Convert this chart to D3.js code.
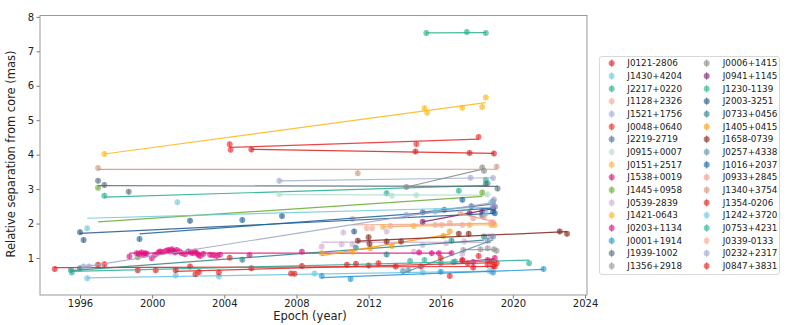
<!DOCTYPE html>
<html><head><meta charset="utf-8">
<script src="https://cdn.jsdelivr.net/npm/d3@7"></script>
<style>body{margin:0;background:#fff} svg{display:block} text{font-family:"DejaVu Sans",sans-serif}</style>
</head><body><svg id="c" width="789" height="325"></svg>
<script>
const sources = ["J0121-2806","J1430+4204","J2217+0220","J1128+2326","J1521+1756","J0048+0640","J2219-2719","J0915+0007","J0151+2517","J1538+0019","J1445+0958","J0539-2839","J1421-0643","J0203+1134","J0001+1914","J1939-1002","J1356+2918","J0006+1415","J0941+1145","J1230-1139","J2003-3251","J0733+0456","J1405+0415","J1658-0739","J0257+4338","J1016+2037","J0933+2845","J1340+3754","J1354-0206","J1242+3720","J0753+4231","J0339-0133","J0232+2317","J0847+3831"];

const epochs = [
 [1994.6,1997.0,1997.35,1999.2,2000.2,2002.1,2005.5,2008.3,2012.0,2014.9,2017.8,2018.9],
 [1996.4,2001.3,2003.7,2009.0,2015.0,2018.7],
 [1997.35,2013.0,2017.0,2018.5,2018.6],
 [2011.1,2011.9,2012.2,2016.5,2018.9],
 [2007.05,2017.65,2018.9],
 [2004.3,2004.35,2014.65,2018.1],
 [2015.0,2016.2,2017.7,2018.9,2019.0],
 [2007.05,2013.3,2014.65,2018.6],
 [2012.8,2014.5,2017.6,2018.8,2019.0],
 [2017.2,2017.8,2018.6,2019.0],
 [1997.0,1999.2,2018.3],
 [2009.4,2010.5,2010.6,2011.1,2013.0,2014.5,2015.0,2016.3,2017.2,2017.3,2018.65,2018.8],
 [1997.35,2015.1,2015.25,2017.2,2018.3,2018.5],
 [1998.74,1999.14,1999.29,1999.42,1999.51,1999.61,1999.70,1999.98,2000.16,2000.35,2000.44,2000.59,2000.77,2000.90,2000.99,2001.09,2001.18,2001.27,2001.36,2001.51,2001.64,2001.82,2002.01,2002.14,2002.25,2002.38,2002.47,2002.56,2002.66,2002.84,2003.21,2003.39,2003.58,2003.76,2005.4,2008.3,2014.8,2015.5,2015.9,2016.6],
 [2009.4,2011.0,2016.0,2018.9,2021.7],
 [1997.0,1997.35,1998.7,2018.5,2019.15],
 [2017.25,2018.2,2018.6,2018.95,2019.1],
 [2014.1,2018.3,2018.4],
 [2015.0,2017.6,2018.3,2018.9],
 [2015.2,2017.45,2018.5],
 [1996.0,1996.2,2002.1,2007.2,2011.2,2018.9],
 [1995.5,1996.0,2005.0,2011.3,2013.0,2016.6,2018.4],
 [2009.4,2011.1,2012.1,2013.3,2016.15,2016.5],
 [2011.4,2012.0,2012.05,2013.0,2013.8,2017.0,2017.55,2022.6,2023.0],
 [2013.9,2014.2,2016.8,2018.6,2018.9],
 [1999.3,2005.0,2017.2,2018.3,2019.0],
 [2017.1,2017.8,2018.4,2018.9],
 [1997.0,2011.4,2019.1],
 [2005.5,2014.6,2017.6,2018.95],
 [1996.4,2001.4,2015.7,2018.5,2018.8],
 [1995.55,2014.3,2015.1,2016.0,2016.7,2020.9],
 [2013.2,2015.7,2016.05,2017.2,2018.8],
 [1996.2,1996.5,2014.1,2018.9,2018.95],
 [2001.3,2002.4,2002.6,2003.7,2004.3,2007.7,2007.9,2010.8,2011.3,2012.55,2013.5,2016.0,2016.5,2017.2,2017.5,2018.1,2018.6,2018.8,2019.0,2019.1]
];

const separations = [
 [0.68,0.80,0.82,0.64,0.64,0.75,0.70,0.77,0.78,0.75,0.72,0.76],
 [0.41,0.49,0.46,0.55,0.58,0.62],
 [2.81,2.88,2.95,3.27,3.17],
 [2.13,1.86,1.86,2.02,2.00],
 [3.24,3.33,3.32],
 [4.30,4.14,4.31,4.51],
 [2.33,2.40,2.50,2.64,2.49],
 [2.85,2.81,2.82,2.84],
 [1.90,1.93,1.96,1.96,1.96],
 [0.92,0.88,0.94,1.00],
 [3.04,1.02,2.90],
 [1.33,1.40,1.74,1.40,1.77,1.18,1.38,1.43,1.12,1.48,1.62,1.62],
 [4.02,5.35,5.22,5.36,5.38,5.66],
 [1.04,1.14,1.12,1.16,1.09,1.14,1.12,0.99,1.09,1.16,1.19,1.17,1.21,1.23,1.19,1.25,1.21,1.16,1.23,1.19,1.14,1.11,1.19,1.16,1.14,1.19,1.14,1.09,1.06,1.12,1.09,1.08,1.06,1.09,1.08,1.18,1.16,1.14,1.14,1.14],
 [0.48,0.39,0.60,0.58,0.68],
 [3.24,3.12,2.92,3.15,3.02],
 [1.23,1.25,1.28,1.25,1.21],
 [3.06,3.63,3.53],
 [2.05,2.30,2.35,2.45],
 [7.53,7.56,7.53],
 [1.75,1.52,2.08,2.22,1.77,2.35],
 [0.65,0.70,0.95,1.30,1.10,1.50,1.62],
 [1.14,1.18,1.28,1.35,1.64,1.77],
 [1.50,1.60,1.41,1.48,1.48,1.70,1.70,1.77,1.70],
 [0.62,0.65,0.90,1.50,1.62],
 [1.55,2.10,2.69,2.25,2.30],
 [2.30,2.15,2.20,2.03],
 [3.61,3.46,3.65],
 [4.15,4.09,4.05,4.03],
 [1.86,2.62,2.35,2.30,2.62],
 [0.58,0.91,0.94,0.85,0.88,0.85],
 [1.93,1.96,1.96,1.96,2.04],
 [0.75,0.75,2.25,2.50,2.70],
 [0.64,0.53,0.59,0.58,1.01,0.55,0.54,0.80,0.83,0.85,0.75,1.00,0.48,0.94,0.85,1.06,0.80,0.90,0.75,0.85]
];

const palette = ["#e41a1c","#69c4e0","#1fae8a","#f3aa93","#a2aad0","#eb2626","#546ca1","#afddd0","#fcb33f","#d31478","#67ab2b","#ceaed8","#fcb713","#e00e7f","#2393d6","#546a7b","#969696","#878787","#801c6a","#26b08b","#245588","#2a8484","#fa9c13","#802318","#6393ae","#14639d","#ef9a88","#cb987f","#dc1e1e","#6ac8de","#26b096","#f5ab92","#9ca6cb","#e02123"];

const xTicks = [1996,2000,2004,2008,2012,2016,2020,2024];
const yTicks = [1,2,3,4,5,6,7,8];
const sepError = 0.08;

const svg = d3.select("#c");
const x = d3.scaleLinear().domain([1993.782, 2024.11]).range([40, 587]);
const y = d3.scaleLinear().domain([-0.075, 8.04]).range([295, 15.5]);

// axes
const gx = svg.append("g").attr("transform","translate(0,295)")
  .call(d3.axisBottom(x).tickValues(xTicks).tickSize(3.5).tickPadding(1.5).tickFormat(d3.format("d")));
const gy = svg.append("g").attr("transform","translate(40,0)")
  .call(d3.axisLeft(y).tickValues(yTicks).tickSize(3.5).tickPadding(2.5).tickFormat(d3.format("d")));
[gx,gy].forEach(g=>{
  g.select(".domain").remove();
  g.selectAll(".tick line").attr("stroke","#555").attr("stroke-width",0.8);
  g.selectAll(".tick text").attr("fill","#222").style("font-size","10px").style("font-family","DejaVu Sans");
});

// series
const line = d3.line().x(d=>x(d[0])).y(d=>y(d[1]));
const plot = svg.append("g");
sources.forEach((name,i)=>{
  const pts = epochs[i].map((e,j)=>[e, separations[i][j]]);
  const col = palette[i];
  const g = plot.append("g");
  g.selectAll("line.err").data(pts).join("line")
    .attr("x1",d=>x(d[0])).attr("x2",d=>x(d[0]))
    .attr("y1",d=>y(d[1]-sepError)).attr("y2",d=>y(d[1]+sepError))
    .attr("stroke",col).attr("stroke-opacity",0.55).attr("stroke-width",1);
  g.selectAll("circle").data(pts).join("circle")
    .attr("cx",d=>x(d[0])).attr("cy",d=>y(d[1])).attr("r",3)
    .attr("fill",col).attr("fill-opacity",0.6);
  // least squares fit
  const mx = d3.mean(pts,d=>d[0]), my = d3.mean(pts,d=>d[1]);
  let sxy=0, sxx=0;
  pts.forEach(d=>{sxy+=(d[0]-mx)*(d[1]-my); sxx+=(d[0]-mx)**2;});
  const b = sxx>0 ? sxy/sxx : 0, a = my - b*mx;
  const [x0,x1] = d3.extent(pts,d=>d[0]);
  g.append("path").attr("d", line([[x0,a+b*x0],[x1,a+b*x1]]))
    .attr("stroke",col).attr("stroke-width",1.2).attr("stroke-opacity",0.85).attr("fill","none");
});

// frame
svg.append("rect").attr("x",40).attr("y",15.5).attr("width",547).attr("height",279.5)
  .attr("fill","none").attr("stroke","#999").attr("stroke-width",1);

// labels
svg.append("text").attr("x",310).attr("y",320).attr("text-anchor","middle")
  .style("font-size","11.5px").attr("fill","#222").text("Epoch (year)");
svg.append("text").attr("transform","translate(15,154) rotate(-90)").attr("text-anchor","middle")
  .style("font-size","11.5px").attr("fill","#222").text("Relative separation from core (mas)");

// legend
const lg = svg.append("g");
lg.append("rect").attr("x",599.5).attr("y",56.5).attr("width",180).attr("height",218).attr("rx",2.5)
  .attr("fill","#fff").attr("stroke","#d8d8d8").attr("stroke-width",1);
const perCol = 17;
sources.forEach((name,i)=>{
  const c = Math.floor(i/perCol), r = i%perCol;
  const mxp = 611.7 + c*95, tx = 627.3 + c*95.4, cy = 63.3 + r*12.67;
  lg.append("line").attr("x1",mxp).attr("x2",mxp).attr("y1",cy-4).attr("y2",cy+4)
    .attr("stroke",palette[i]).attr("stroke-opacity",0.55).attr("stroke-width",1);
  lg.append("circle").attr("cx",mxp).attr("cy",cy).attr("r",3).attr("fill",palette[i]).attr("fill-opacity",0.6);
  lg.append("text").attr("x",tx).attr("y",cy).attr("dy","0.35em").style("font-size","8.8px").attr("fill","#222").text(name);
});
</script></body></html>
